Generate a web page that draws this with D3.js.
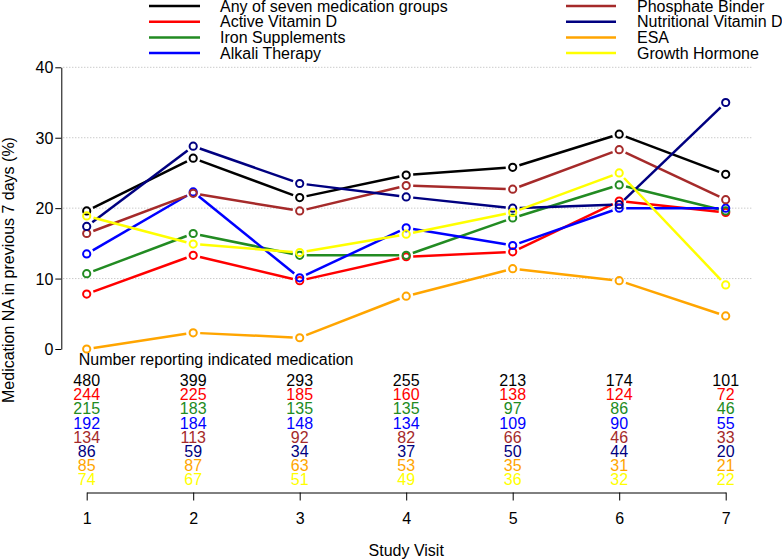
<!DOCTYPE html>
<html>
<head>
<meta charset="utf-8">
<script src="https://cdn.jsdelivr.net/npm/d3@7"></script>
<style>
  html, body { margin: 0; padding: 0; background: #fff; }
  svg { display: block; font-family: "Liberation Sans", Arial, Helvetica, sans-serif; }
</style>
</head>
<body>
<svg id="chart" width="782" height="560"></svg>
<script>
// ---- Data ----
const visits = [1, 2, 3, 4, 5, 6, 7];
const seriesNames = [
  "Any of seven medication groups", "Active Vitamin D", "Iron Supplements", "Alkali Therapy",
  "Phosphate Binder", "Nutritional Vitamin D", "ESA", "Growth Hormone"
];
const seriesColors = ["#000000", "#ff0000", "#228b22", "#0000ff", "#a52a2a", "#000080", "#ffa500", "#ffff00"];
const anyMed      = [19.6, 27.1, 21.5, 24.7, 25.8, 30.5, 24.8];
const activeVitD  = [7.8, 13.3, 9.7, 13.1, 13.8, 21.0, 19.4];
const ironSupp    = [10.7, 16.4, 13.3, 13.3, 18.6, 23.3, 19.6];
const alkali      = [13.5, 22.3, 10.1, 17.2, 14.7, 20.0, 20.0];
const phosphate   = [16.4, 22.1, 19.6, 23.2, 22.7, 28.3, 21.2];
const nutrVitD    = [17.4, 28.8, 23.5, 21.6, 20.0, 20.5, 35.0];
const esa         = [0.0, 2.3, 1.6, 7.5, 11.4, 9.7, 4.7];
const growthHorm  = [18.9, 14.9, 13.7, 16.3, 19.4, 25.0, 9.1];
const seriesValues = [anyMed, activeVitD, ironSupp, alkali, phosphate, nutrVitD, esa, growthHorm];

const nAny        = [480, 399, 293, 255, 213, 174, 101];
const nActiveVitD = [244, 225, 185, 160, 138, 124, 72];
const nIron       = [215, 183, 135, 135, 97, 86, 46];
const nAlkali     = [192, 184, 148, 134, 109, 90, 55];
const nPhosphate  = [134, 113, 92, 82, 66, 46, 33];
const nNutrVitD   = [86, 59, 34, 37, 50, 44, 20];
const nEsa        = [85, 87, 63, 53, 35, 31, 21];
const nGrowth     = [74, 67, 51, 49, 36, 32, 22];
const seriesCounts = [nAny, nActiveVitD, nIron, nAlkali, nPhosphate, nNutrVitD, nEsa, nGrowth];

const yTicks = [0, 10, 20, 30, 40];
const yLabel = "Medication NA in previous 7 days (%)";
const xLabel = "Study Visit";
const tableTitle = "Number reporting indicated medication";

// ---- Layout ----
const svg = d3.select("#chart");
const FONT = 16;
const x = d3.scaleLinear().domain([1, 7]).range([86.7, 725.7]);
const y = d3.scaleLinear().domain([0, 40]).range([349, 67.3]);
const xAxisY = 492.5;
const axisX = 61.3;

// gridlines (dotted)
svg.append("g").selectAll("line").data(yTicks.slice(1)).join("line")
  .attr("x1", axisX + 2).attr("x2", x(7.24))
  .attr("y1", d => y(d)).attr("y2", d => y(d))
  .attr("stroke", "#b4b4b4").attr("stroke-width", 1).attr("stroke-dasharray", "1 2");

// y axis
const yAxis = d3.axisLeft(y).tickValues(yTicks).tickSize(6).tickPadding(2).tickSizeOuter(0);
const gy = svg.append("g").attr("transform", `translate(${axisX},0)`).call(yAxis);
gy.select(".domain").attr("stroke", "#000").attr("stroke-width", 1);
gy.selectAll(".tick line").attr("stroke", "#000");
gy.selectAll(".tick text").attr("font-size", FONT).attr("fill", "#000")
  .attr("font-family", "'Liberation Sans', Arial, sans-serif").attr("dy", "0.35em");

// y label
svg.append("text")
  .attr("transform", `translate(14, 270) rotate(-90)`)
  .attr("text-anchor", "middle").attr("font-size", FONT).attr("fill", "#000")
  .text(yLabel);

// x axis
const xAxis = d3.axisBottom(x).tickValues(visits).tickFormat(d3.format("d")).tickSize(8).tickPadding(12).tickSizeOuter(0);
const gx = svg.append("g").attr("transform", `translate(0,${xAxisY})`).call(xAxis);
gx.select(".domain").attr("stroke", "#000").attr("stroke-width", 1);
gx.selectAll(".tick line").attr("stroke", "#000");
gx.selectAll(".tick text").attr("font-size", FONT).attr("fill", "#000")
  .attr("font-family", "'Liberation Sans', Arial, sans-serif");

svg.append("text").attr("x", x(4)).attr("y", 556)
  .attr("text-anchor", "middle").attr("font-size", FONT).attr("fill", "#000").text(xLabel);

// series lines (type "b": gaps around points) and open circles
const GAP = 7;
seriesValues.forEach((vals, si) => {
  const g = svg.append("g");
  const pts = vals.map((v, i) => [x(visits[i]), y(v)]);
  const segs = [];
  for (let i = 0; i < pts.length - 1; i++) {
    const [x1, y1] = pts[i], [x2, y2] = pts[i + 1];
    const dx = x2 - x1, dy = y2 - y1, L = Math.hypot(dx, dy);
    if (L > 2 * GAP) segs.push([x1 + dx / L * GAP, y1 + dy / L * GAP, x2 - dx / L * GAP, y2 - dy / L * GAP]);
  }
  g.selectAll("line").data(segs).join("line")
    .attr("x1", d => d[0]).attr("y1", d => d[1]).attr("x2", d => d[2]).attr("y2", d => d[3])
    .attr("stroke", seriesColors[si]).attr("stroke-width", 2.5).attr("stroke-linecap", "butt");
  g.selectAll("circle").data(vals).join("circle")
    .attr("cx", (d, i) => x(visits[i])).attr("cy", d => y(d)).attr("r", 3.6)
    .attr("fill", "none").attr("stroke", seriesColors[si]).attr("stroke-width", 2);
});

// number table
svg.append("text").attr("x", x(1) - 8).attr("y", y(-1.5)).attr("dy", "0.35em")
  .attr("font-size", FONT).attr("fill", "#000").text(tableTitle);
seriesCounts.forEach((counts, si) => {
  svg.append("g").selectAll("text").data(counts).join("text")
    .attr("x", (d, i) => x(visits[i])).attr("y", y(-4.5 - 2 * si)).attr("dy", "0.35em")
    .attr("text-anchor", "middle").attr("font-size", FONT).attr("fill", seriesColors[si])
    .text(d => d);
});

// legend (two columns)
const legendRowY = [6, 21.7, 37.4, 53.1];
const legendCols = [{ lx1: 149, lx2: 200, tx: 220 }, { lx1: 566, lx2: 616, tx: 637 }];
const legendItems = seriesNames.map((name, i) => ({ name, color: seriesColors[i], col: Math.floor(i / 4), row: i % 4 }));
const lg = svg.append("g").selectAll("g").data(legendItems).join("g");
lg.append("line")
  .attr("x1", d => legendCols[d.col].lx1).attr("x2", d => legendCols[d.col].lx2)
  .attr("y1", d => legendRowY[d.row]).attr("y2", d => legendRowY[d.row])
  .attr("stroke", d => d.color).attr("stroke-width", 2.5);
lg.append("text")
  .attr("x", d => legendCols[d.col].tx).attr("y", d => legendRowY[d.row] + 5.5)
  .attr("font-size", FONT).attr("fill", "#000").text(d => d.name);
</script>
</body>
</html>
